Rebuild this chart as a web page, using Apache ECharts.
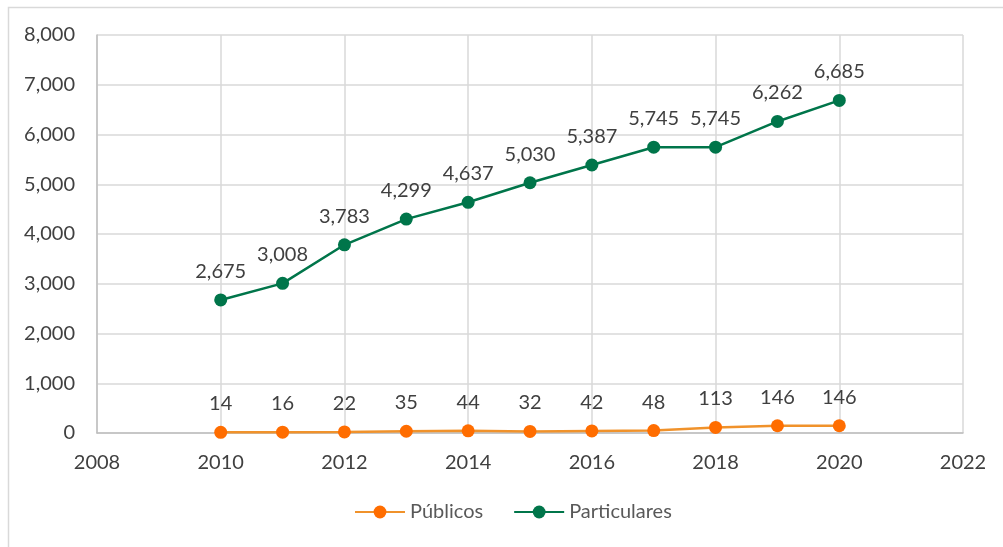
<!DOCTYPE html>
<html>
<head>
<meta charset="utf-8">
<style>
  html, body { margin: 0; padding: 0; background: #ffffff; }
  #chart { width: 1003px; height: 547px; }
</style>
<script src="https://cdn.jsdelivr.net/npm/echarts@6/dist/echarts.min.js"></script>
</head>
<body>
<div id="chart"></div>
<script>
// Years shown on the chart
const years = [2010, 2011, 2012, 2013, 2014, 2015, 2016, 2017, 2018, 2019, 2020];
// Public institutions
const publicos = [14, 16, 22, 35, 44, 32, 42, 48, 113, 146, 146];
// Private institutions
const particulares = [2675, 3008, 3783, 4299, 4637, 5030, 5387, 5745, 5745, 6262, 6685];
// Legend names
const seriesNames = ['Públicos', 'Particulares'];

const FONT = 'Lato';
const fmt = v => Number(v).toLocaleString('en-US');
const pairs = arr => years.map((y, i) => [y, arr[i]]);

const chart = echarts.init(document.getElementById('chart'), null, { renderer: 'canvas' });

function lineSeries(name, values, lineColor, markerColor, lineWidth) {
  return {
    name: name,
    type: 'line',
    data: pairs(values),
    symbol: 'circle',
    symbolSize: 13,
    z: name === seriesNames[1] ? 3 : 2,
    lineStyle: { color: lineColor, width: lineWidth },
    itemStyle: { color: markerColor, borderWidth: 0 },
    emphasis: { disabled: true },
    label: {
      show: true,
      position: 'top',
      distance: 12,
      fontFamily: FONT,
      fontSize: 20,
      color: '#404040',
      formatter: p => fmt(p.value[1])
    }
  };
}

chart.setOption({
  animation: false,
  backgroundColor: '#ffffff',
  graphic: [{
    type: 'rect',
    shape: { x: 8.5, y: 7.5, width: 1100, height: 700 },
    style: { fill: 'none', stroke: '#d9d9d9', lineWidth: 1.5 },
    silent: true,
    z: -10
  }],
  grid: { left: 97, right: 40, top: 35, bottom: 114, containLabel: false },
  legend: {
    data: seriesNames,
    bottom: 20,
    left: 349,
    itemWidth: 50,
    itemHeight: 16,
    itemGap: 30,
    textStyle: { fontFamily: FONT, fontSize: 20, color: '#595959' }
  },
  xAxis: {
    type: 'value',
    min: 2008,
    max: 2022,
    interval: 2,
    axisLine: { show: true, lineStyle: { color: '#bfbfbf', width: 1.5 } },
    axisTick: { show: false },
    splitLine: { show: true, lineStyle: { color: '#d9d9d9', width: 1.5 } },
    axisLabel: { fontFamily: FONT, fontSize: 20, color: '#404040', margin: 20, formatter: v => String(v) }
  },
  yAxis: {
    type: 'value',
    min: 0,
    max: 8000,
    interval: 1000,
    axisLine: { show: true, lineStyle: { color: '#bfbfbf', width: 1.5 } },
    axisTick: { show: false },
    splitLine: { show: true, lineStyle: { color: '#d9d9d9', width: 1.5 } },
    axisLabel: { fontFamily: FONT, fontSize: 20, color: '#404040', margin: 22, formatter: v => fmt(v) }
  },
  series: [
    lineSeries(seriesNames[0], publicos, '#f0922b', '#ff6d00', 2.5),
    lineSeries(seriesNames[1], particulares, '#00754a', '#00754a', 2.5)
  ]
});
</script>
</body>
</html>
